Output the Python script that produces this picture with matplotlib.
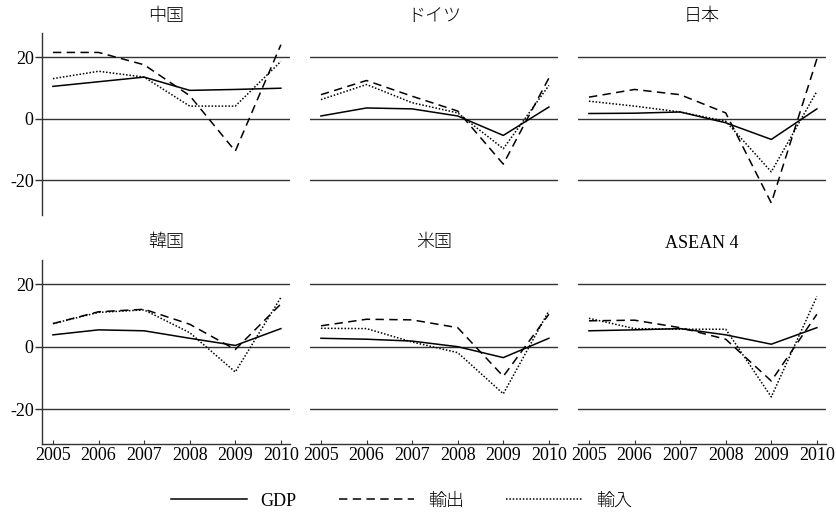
import matplotlib
matplotlib.use("Agg")
import matplotlib.pyplot as plt
from matplotlib.lines import Line2D

plt.rcParams['font.family'] = ['Liberation Serif', 'Noto Sans CJK JP', 'DejaVu Sans']

years = [2005, 2006, 2007, 2008, 2009, 2010]
countries = ["中国", "ドイツ", "日本", "韓国", "米国", "ASEAN 4"]

gdp = {
    "中国":   [10.5, 12.0, 13.5, 9.2, 9.5, 9.9],
    "ドイツ": [0.9, 3.5, 3.2, 0.9, -5.4, 3.8],
    "日本":   [1.7, 1.8, 2.2, -1.3, -6.7, 3.2],
    "韓国":   [3.8, 5.4, 5.1, 2.7, 0.4, 5.8],
    "米国":   [2.7, 2.4, 1.8, 0.0, -3.5, 2.7],
    "ASEAN 4": [5.1, 5.4, 5.8, 3.8, 0.8, 6.1],
}
exports = {
    "中国":   [21.5, 21.5, 17.5, 7.5, -10.5, 24.0],
    "ドイツ": [7.8, 12.4, 7.3, 2.5, -14.7, 13.2],
    "日本":   [7.0, 9.5, 7.8, 1.9, -27.3, 19.4],
    "韓国":   [7.4, 11.2, 12.0, 7.2, -0.9, 13.7],
    "米国":   [6.7, 8.8, 8.6, 6.1, -9.5, 10.4],
    "ASEAN 4": [8.3, 8.5, 6.1, 2.4, -11.0, 10.4],
}
imports = {
    "中国":   [13.0, 15.4, 13.5, 4.1, 4.1, 18.6],
    "ドイツ": [6.2, 11.1, 5.2, 1.9, -9.7, 10.8],
    "日本":   [5.7, 4.1, 2.2, -0.8, -17.2, 8.9],
    "韓国":   [7.4, 11.0, 11.8, 4.5, -8.1, 15.8],
    "米国":   [5.9, 5.8, 1.5, -1.9, -15.1, 11.5],
    "ASEAN 4": [9.1, 5.8, 5.6, 5.6, -16.1, 16.1],
}
legend_labels = ["GDP", "輸出", "輸入"]
yticks = [20, 0, -20]

W, H = 836, 519
fig = plt.figure(figsize=(W / 100, H / 100), dpi=100)

lefts = [42, 310, 578]
width = 248
rows = [(33, 215), (260, 444)]

dash_style = (0, (5.5, 3.5))
dot_style = (0, (1, 1.2))
lw = 1.1

for i, c in enumerate(countries):
    r, col = divmod(i, 3)
    top, bot = rows[r]
    ax = fig.add_axes([lefts[col] / W, 1 - bot / H, width / W, (bot - top) / H])
    ax.set_xlim(2004.76, 2010.2)
    ax.set_ylim(-31.2, 27.8)
    for yv in yticks:
        ax.axhline(yv, color='#333333', lw=1.0, zorder=1)
    ax.plot(years, gdp[c], color='black', lw=lw, ls='-', zorder=3)
    ax.plot(years, exports[c], color='black', lw=lw, ls=dash_style, zorder=3)
    ax.plot(years, imports[c], color='black', lw=lw, ls=dot_style, zorder=3)
    ax.set_title(c, fontsize=13, pad=9, fontweight='light')
    for s in ['top', 'right']:
        ax.spines[s].set_visible(False)
    ax.spines['left'].set_visible(col == 0)
    ax.spines['bottom'].set_visible(r == 1)
    for s in ['left', 'bottom']:
        ax.spines[s].set_color('#333333')
        ax.spines[s].set_linewidth(1.0)
    ax.set_yticks(yticks)
    if col == 0:
        ax.set_yticklabels([str(v) for v in yticks], fontsize=13)
        ax.tick_params(axis='y', length=5, width=1.0, color='#333333', pad=1)
    else:
        ax.tick_params(axis='y', left=False, labelleft=False)
    ax.set_xticks(years)
    if r == 1:
        ax.set_xticklabels([str(y) for y in years], fontsize=13)
        ax.tick_params(axis='x', direction='in', length=3, width=0.8, color='#333333', pad=2)
    else:
        ax.tick_params(axis='x', bottom=False, labelbottom=False)

handles = [
    Line2D([], [], color='black', lw=lw, ls='-'),
    Line2D([], [], color='black', lw=lw, ls=dash_style),
    Line2D([], [], color='black', lw=lw, ls=dot_style),
]
leg = fig.legend(handles, legend_labels, loc='center', bbox_to_anchor=(0.48, 1 - 501 / H),
                 ncol=3, frameon=False, fontsize=13, handlelength=4.2, handletextpad=0.75,
                 columnspacing=2.35)
for t in leg.get_texts():
    t.set_fontweight('light')

fig.savefig("out.png", dpi=100)
